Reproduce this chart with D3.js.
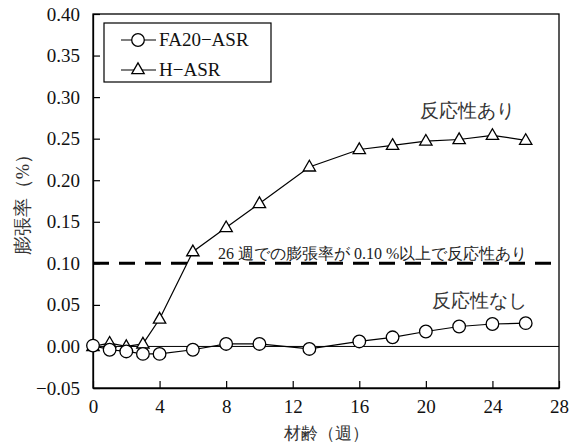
<!DOCTYPE html>
<html>
<head>
<meta charset="utf-8">
<script src="https://cdn.jsdelivr.net/npm/d3@7"></script>
<style>
body { margin: 0; background: #fff; }
</style>
</head>
<body>
<div id="chart"></div>
<script>
// data
const weeks = [0, 1, 2, 3, 4, 6, 8, 10, 13, 16, 18, 20, 22, 24, 26]
const fa20 = [0.001, -0.004, -0.006, -0.009, -0.009, -0.004, 0.003, 0.003, -0.003, 0.006, 0.011, 0.018, 0.024, 0.027, 0.028]
const hAsr = [0.000, 0.004, 0.000, 0.003, 0.033, 0.114, 0.143, 0.172, 0.216, 0.237, 0.242, 0.247, 0.249, 0.254, 0.248]
const xTicks = [0, 4, 8, 12, 16, 20, 24, 28]
const yTicks = [-0.05, 0, 0.05, 0.10, 0.15, 0.20, 0.25, 0.30, 0.35, 0.40]
const seriesNames = ['FA20\u2212ASR', 'H\u2212ASR']
const threshold = 0.10

const W = 579, H = 446
const m = {left: 93, top: 14, right: 20, bottom: 58}
const pw = W - m.left - m.right, ph = H - m.top - m.bottom

const svg = d3.select('#chart').append('svg')
	.attr('width', W)
	.attr('height', H)

const x = d3.scaleLinear().domain([0, 28]).range([m.left, m.left + pw])
const y = d3.scaleLinear().domain([-0.05, 0.40]).range([m.top + ph, m.top])

// frame
svg.append('rect')
	.attr('x', m.left).attr('y', m.top)
	.attr('width', pw).attr('height', ph)
	.attr('fill', 'none').attr('stroke', '#000').attr('stroke-width', 1.3)

// axes with inner ticks
const yAxis = svg.append('g')
	.attr('transform', 'translate(' + m.left + ',0)')
	.call(d3.axisLeft(y).tickValues(yTicks).tickSizeInner(-7).tickSizeOuter(0).tickPadding(13)
		.tickFormat(d => d < 0 ? '\u2212' + d3.format('.2f')(-d) : d3.format('.2f')(d)))
const xAxis = svg.append('g')
	.attr('transform', 'translate(0,' + (m.top + ph) + ')')
	.call(d3.axisBottom(x).tickValues(xTicks).tickSizeInner(-7).tickSizeOuter(0).tickPadding(12))
for (const ax of [xAxis, yAxis]) {
	ax.select('.domain').attr('stroke-width', 1.3)
	ax.selectAll('line').attr('stroke-width', 1.2)
	ax.selectAll('text').attr('font-size', 19).attr('fill', '#111')
}

// zero line
svg.append('line')
	.attr('x1', x(0)).attr('x2', x(28))
	.attr('y1', y(0)).attr('y2', y(0))
	.attr('stroke', '#000').attr('stroke-width', 1)

// threshold dashed line
svg.append('line')
	.attr('x1', x(0)).attr('x2', x(28))
	.attr('y1', y(threshold)).attr('y2', y(threshold))
	.attr('stroke', '#000').attr('stroke-width', 3)
	.attr('stroke-dasharray', '16,10')

const line = d3.line().x(d => x(d[0])).y(d => y(d[1]))
const tri = d3.symbol().type(d3.symbolTriangle).size(66)

function drawSeries(vals, kind) {
	const pts = weeks.map((w, i) => [w, vals[i]])
	svg.append('path')
		.attr('d', line(pts))
		.attr('fill', 'none').attr('stroke', '#000').attr('stroke-width', 1.2)
	if (kind == 'circle') {
		svg.selectAll(null).data(pts).join('circle')
			.attr('cx', d => x(d[0])).attr('cy', d => y(d[1]))
			.attr('r', 6.3)
			.attr('fill', '#fff').attr('stroke', '#000').attr('stroke-width', 1.3)
	} else {
		svg.selectAll(null).data(pts).join('path')
			.attr('d', tri)
			.attr('transform', d => 'translate(' + x(d[0]) + ',' + (y(d[1]) + 0.5) + ')')
			.attr('fill', '#fff').attr('stroke', '#000').attr('stroke-width', 1.3)
	}
}
drawSeries(hAsr, 'triangle')
drawSeries(fa20, 'circle')

// legend
const lg = svg.append('g')
lg.append('rect')
	.attr('x', 104).attr('y', 23).attr('width', 167).attr('height', 59)
	.attr('fill', '#fff').attr('stroke', '#000').attr('stroke-width', 1.2)
seriesNames.forEach((name, i) => {
	const ly = 40 + i * 30
	lg.append('line')
		.attr('x1', 121).attr('x2', 156).attr('y1', ly).attr('y2', ly)
		.attr('stroke', '#000').attr('stroke-width', 1.2)
	if (i == 0) {
		lg.append('circle').attr('cx', 138).attr('cy', ly).attr('r', 6.3)
			.attr('fill', '#fff').attr('stroke', '#000').attr('stroke-width', 1.3)
	} else {
		lg.append('path').attr('d', tri).attr('transform', 'translate(138,' + ly + ')')
			.attr('fill', '#fff').attr('stroke', '#000').attr('stroke-width', 1.3)
	}
	lg.append('text')
		.attr('x', 159).attr('y', ly + 6)
		.attr('font-size', 19).attr('fill', '#111')
		.text(name)
})

// annotations
svg.append('text')
	.attr('x', 420).attr('y', 117)
	.attr('font-size', 19).attr('fill', '#333')
	.text('反応性あり')
svg.append('text')
	.attr('x', 432).attr('y', 307)
	.attr('font-size', 19).attr('fill', '#333')
	.text('反応性なし')
svg.append('text')
	.attr('x', 218).attr('y', 259)
	.attr('font-size', 16).attr('fill', '#222')
	.text('26 週での膨張率が 0.10 %以上で反応性あり')

// axis titles
svg.append('text')
	.attr('x', x(14)).attr('y', 439)
	.attr('text-anchor', 'middle')
	.attr('font-size', 16.5).attr('fill', '#333')
	.text('材齢（週）')
svg.append('text')
	.attr('transform', 'translate(29,200) rotate(-90)')
	.attr('text-anchor', 'middle')
	.attr('font-size', 18.5).attr('fill', '#333')
	.text('膨張率（%）')

svg.selectAll('text').attr('font-family', 'Liberation Serif')
</script>
</body>
</html>
